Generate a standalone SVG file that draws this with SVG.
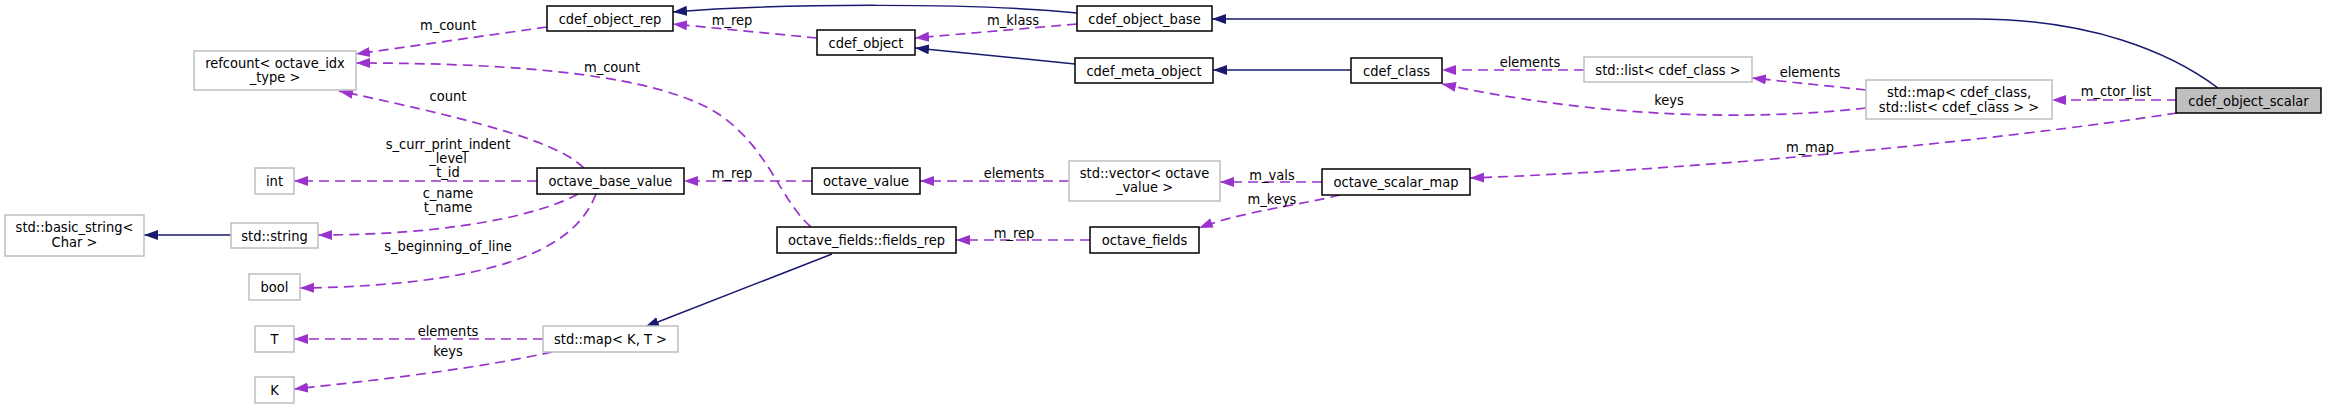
<svg xmlns="http://www.w3.org/2000/svg" width="2325" height="405" viewBox="0 0 2325 405">
<style>
text{font-family:"DejaVu Sans Condensed","DejaVu Sans",sans-serif;font-stretch:condensed;font-size:14.5px;fill:#000;text-anchor:middle}
.nb rect{fill:#fff;stroke:#000;stroke-width:1.5}
.ng rect{fill:#fff;stroke:#bfbfbf;stroke-width:1.5}
.nm rect{fill:#bfbfbf;stroke:#000;stroke-width:1.5}
.u{fill:none;stroke:#9a32cd;stroke-width:1.7;stroke-dasharray:10,6;marker-end:url(#ap)}
.i{fill:none;stroke:#191970;stroke-width:1.5;marker-end:url(#an)}
</style>
<defs>
<marker id="ap" markerWidth="15" markerHeight="11" refX="14" refY="5.5" orient="auto" markerUnits="userSpaceOnUse"><path d="M0,0.5 L14,5.5 L0,10.5 z" fill="#9a32cd"/></marker>
<marker id="an" markerWidth="15" markerHeight="11" refX="14" refY="5.5" orient="auto" markerUnits="userSpaceOnUse"><path d="M0,0.5 L14,5.5 L0,10.5 z" fill="#191970"/></marker>
</defs>
<rect width="2325" height="405" fill="#fff"/>
<g id="edges">
<path class="i" d="M2218,88 C2170,52 2090,19 1975,19 L1212,19"/>
<path class="i" d="M1077,13 C980,3 780,3 673,12"/>
<path class="u" d="M1077,24 L915,38"/>
<text x="1013" y="25">m_klass</text>
<path class="u" d="M817,38 L673,24"/>
<text x="732" y="25">m_rep</text>
<path class="i" d="M1075,64 L915,48"/>
<path class="i" d="M1351,70 L1213,70"/>
<path class="u" d="M1584,70 L1442,70"/>
<text x="1530" y="67">elements</text>
<path class="u" d="M1866,90 L1752,78"/>
<text x="1810" y="77">elements</text>
<path class="u" d="M1866,108 C1750,121 1600,118 1442,84"/>
<text x="1669" y="105">keys</text>
<path class="u" d="M2177,100 L2052,100"/>
<text x="2116" y="96">m_ctor_list</text>
<path class="u" d="M2177,113 C2000,140 1700,170 1470,178"/>
<text x="1810" y="152">m_map</text>
<path class="u" d="M1322,182 L1220,182"/>
<text x="1272" y="180">m_vals</text>
<path class="u" d="M1340,195 C1300,205 1240,212 1199,228"/>
<text x="1272" y="204">m_keys</text>
<path class="u" d="M1069,181 L920,181"/>
<text x="1014" y="178">elements</text>
<path class="u" d="M812,181 L684,181"/>
<text x="732" y="178">m_rep</text>
<path class="u" d="M1090,240 L956,240"/>
<text x="1014" y="238">m_rep</text>
<path class="i" d="M832,254 L645,327"/>
<path class="u" d="M811,227 C780,200 770,150 720,115 C660,75 520,63 356,63"/>
<text x="612" y="72">m_count</text>
<path class="u" d="M547,27 L356,54"/>
<text x="448" y="30">m_count</text>
<path class="u" d="M584,168 C560,145 500,125 339,91"/>
<text x="448" y="101">count</text>
<path class="u" d="M537,181 L294,181"/>
<text x="448" y="149">s_curr_print_indent</text>
<text x="448" y="163">_level</text>
<text x="448" y="177">t_id</text>
<path class="u" d="M578,194 C540,215 450,235 318,235"/>
<text x="448" y="198">c_name</text>
<text x="448" y="212">t_name</text>
<path class="u" d="M596,194 C580,235 530,285 300,288"/>
<text x="448" y="251">s_beginning_of_line</text>
<path class="i" d="M231,235 L144,235"/>
<path class="u" d="M543,339 L294,339"/>
<text x="448" y="336">elements</text>
<path class="u" d="M552,352 C480,368 380,380 294,389"/>
<text x="448" y="356">keys</text>
</g>
<g id="cdef_object_scalar" class="nm"><rect x="2176" y="88" width="145" height="25"/><text x="2248.5" y="105.5">cdef_object_scalar</text></g>
<g id="cdef_object_base" class="nb"><rect x="1077" y="6" width="135" height="25"/><text x="1144.5" y="23.5">cdef_object_base</text></g>
<g id="cdef_object_rep" class="nb"><rect x="547" y="6" width="126" height="25"/><text x="610" y="23.5">cdef_object_rep</text></g>
<g id="cdef_object" class="nb"><rect x="817" y="30" width="98" height="25"/><text x="866" y="47.5">cdef_object</text></g>
<g id="cdef_meta_object" class="nb"><rect x="1075" y="58" width="138" height="25"/><text x="1144" y="75.5">cdef_meta_object</text></g>
<g id="cdef_class" class="nb"><rect x="1351" y="58" width="91" height="25"/><text x="1396.5" y="75.5">cdef_class</text></g>
<g id="std_list_cdef_class" class="ng"><rect x="1584" y="57" width="168" height="25"/><text x="1668" y="74.5">std::list&lt; cdef_class &gt;</text></g>
<g id="std_map_cdef_class" class="ng"><rect x="1866" y="80" width="186" height="39"/><text x="1959" y="97">std::map&lt; cdef_class,</text><text x="1959" y="112"> std::list&lt; cdef_class &gt; &gt;</text></g>
<g id="refcount" class="ng"><rect x="194" y="51" width="162" height="39"/><text x="275" y="68">refcount&lt; octave_idx</text><text x="275" y="82">_type &gt;</text></g>
<g id="int" class="ng"><rect x="255" y="168" width="39" height="26"/><text x="274.5" y="186">int</text></g>
<g id="octave_base_value" class="nb"><rect x="537" y="168" width="147" height="26"/><text x="610.5" y="186">octave_base_value</text></g>
<g id="octave_value" class="nb"><rect x="812" y="168" width="108" height="26"/><text x="866" y="186">octave_value</text></g>
<g id="std_vector_octave_value" class="ng"><rect x="1069" y="161" width="151" height="40"/><text x="1144.5" y="178">std::vector&lt; octave</text><text x="1144.5" y="192">_value &gt;</text></g>
<g id="octave_scalar_map" class="nb"><rect x="1322" y="169" width="148" height="26"/><text x="1396" y="187">octave_scalar_map</text></g>
<g id="std_basic_string" class="ng"><rect x="5" y="215" width="139" height="41"/><text x="74.5" y="232">std::basic_string&lt;</text><text x="74.5" y="247">Char &gt;</text></g>
<g id="std_string" class="ng"><rect x="231" y="223" width="87" height="25"/><text x="274.5" y="240.5">std::string</text></g>
<g id="octave_fields_fields_rep" class="nb"><rect x="777" y="227" width="179" height="26"/><text x="866.5" y="245">octave_fields::fields_rep</text></g>
<g id="octave_fields" class="nb"><rect x="1090" y="227" width="109" height="26"/><text x="1144.5" y="245">octave_fields</text></g>
<g id="bool" class="ng"><rect x="249" y="274" width="51" height="26"/><text x="274.5" y="292">bool</text></g>
<g id="T" class="ng"><rect x="255" y="326" width="39" height="26"/><text x="274.5" y="344">T</text></g>
<g id="std_map_K_T" class="ng"><rect x="543" y="326" width="135" height="26"/><text x="610.5" y="344">std::map&lt; K, T &gt;</text></g>
<g id="K" class="ng"><rect x="255" y="377" width="39" height="26"/><text x="274.5" y="395">K</text></g>
</svg>
